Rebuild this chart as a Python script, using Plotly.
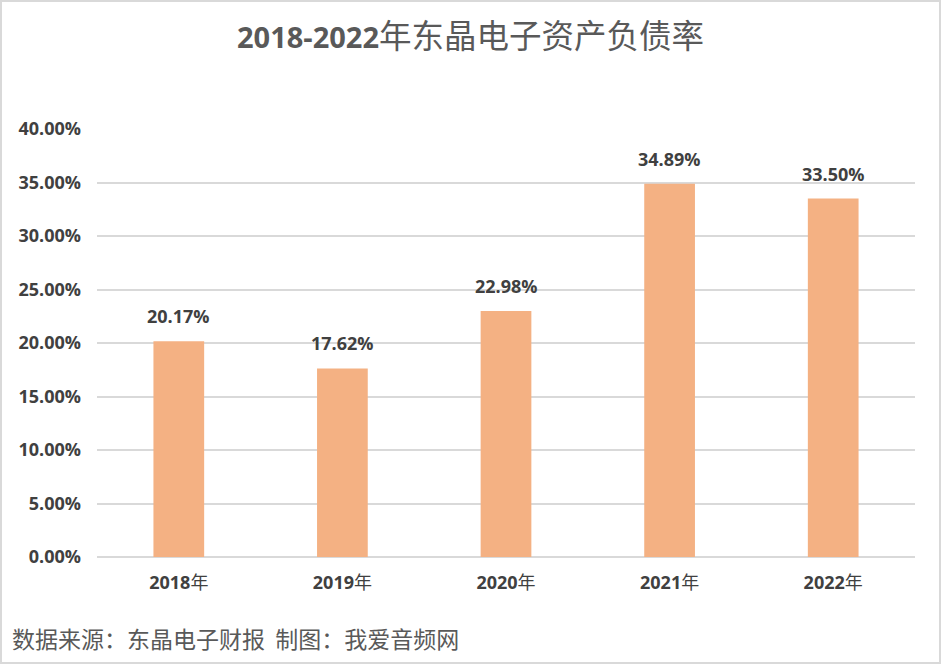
import plotly.graph_objects as go

years = ["2018", "2019", "2020", "2021", "2022"]
year_suffix = "年"
ratios = [0.2017, 0.1762, 0.2298, 0.3489, 0.3350]
labels = ["20.17%", "17.62%", "22.98%", "34.89%", "33.50%"]

title_num = "2018-2022"
title_txt = "年东晶电子资产负债率"
footer_a = "数据来源：东晶电子财报"
footer_b = "制图：我爱音频网"

W, H = 941, 664
ML, MR, MT, MB = 97, 26, 129, 107
PW, PH = W - ML - MR, H - MT - MB

font_fam = "'Open Sans', 'Noto Sans CJK SC', sans-serif"
cjk_fam = "'Noto Sans CJK SC', sans-serif"

cats = [f"<b>{y}</b>{year_suffix}" for y in years]

fig = go.Figure()
fig.add_trace(go.Bar(
    x=cats, y=ratios,
    marker=dict(color="#F4B183", line=dict(width=0)),
    width=0.31,
    hoverinfo="skip",
))

for c, v, t in zip(cats, ratios, labels):
    fig.add_annotation(x=c, y=v, text=f"<b>{t}</b>", showarrow=False,
                       yanchor="middle", yshift=25,
                       font=dict(family=font_fam, size=18, color="#404040"))

def px_x(p):
    return (p - ML) / PW

def px_y(p):
    return (H - MB - p) / PH

fig.update_layout(
    width=W, height=H,
    margin=dict(l=ML, r=MR, t=MT, b=MB),
    paper_bgcolor="white", plot_bgcolor="white",
    showlegend=False,
    title=dict(text=f"<b>{title_num}</b><span style=\"font-size:32.5px\">{title_txt}</span>",
               x=0.5, xanchor="center",
               y=1 - 38 / H, yanchor="middle",
               font=dict(family=font_fam, size=29, color="#595959")),
    xaxis=dict(showgrid=False, showline=False, ticks="", zeroline=False,
               tickfont=dict(family=font_fam, size=18, color="#404040"),
               ticklabelstandoff=13),
    yaxis=dict(range=[0, 0.4], dtick=0.05, tickformat=".2%",
               showgrid=True, gridcolor="#d9d9d9", gridwidth=1.5,
               zeroline=True, zerolinecolor="#d9d9d9", zerolinewidth=1.5,
               showline=False, ticks="",
               tickfont=dict(family=font_fam, size=18, color="#404040", weight="bold"),
               ticklabelstandoff=15),
)

fig.add_annotation(text=f"{footer_a}&nbsp;&nbsp;{footer_b}", xref="paper", yref="paper",
                   x=px_x(10), y=px_y(638), xanchor="left", yanchor="middle",
                   showarrow=False,
                   font=dict(family=cjk_fam, size=23, color="#595959"))

fig.add_shape(type="rect", xref="paper", yref="paper",
              x0=px_x(1), x1=px_x(940), y0=px_y(663), y1=px_y(1),
              line=dict(color="#d9d9d9", width=2), fillcolor="rgba(0,0,0,0)", layer="below")

fig.write_html("out.html")
